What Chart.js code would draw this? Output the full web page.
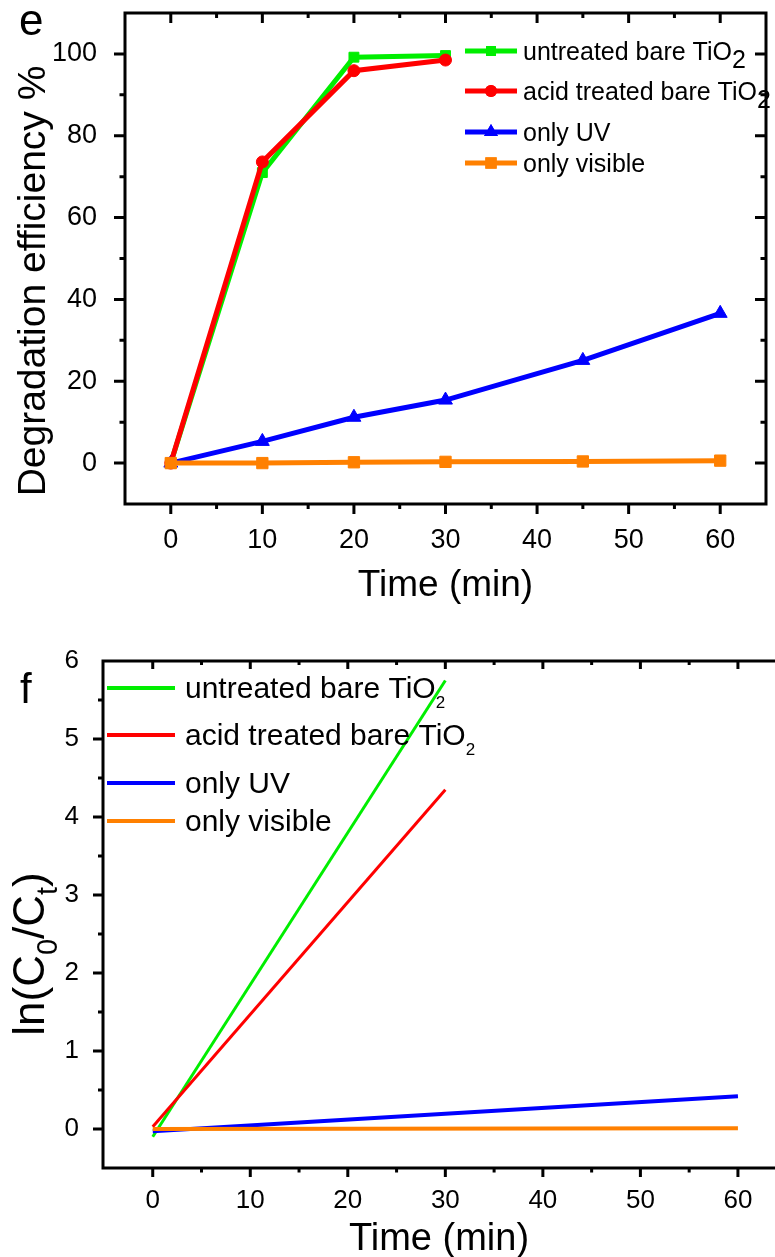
<!DOCTYPE html>
<html>
<head>
<meta charset="utf-8">
<script src="https://cdn.jsdelivr.net/npm/chart.js@4"></script>
<style>
  html, body { margin: 0; padding: 0; background: #fff; }
  #chartE { position: absolute; left: 0; top: 0; }
  #chartF { position: absolute; left: 0; top: 620px; }
</style>
</head>
<body>
<canvas id="chartE" width="775" height="620"></canvas>
<canvas id="chartF" width="775" height="637"></canvas>
<script>
// panel e: degradation efficiency (%)
const timeE = [0, 10, 20, 30, 45, 60];
const untreatedE = [0, 71.0, 99.2, 99.6];
const acidE = [0, 73.6, 95.9, 98.5];
const uvE = [0, 5.3, 11.2, 15.4, 25.1, 36.6];
const visibleE = [0, 0.0, 0.2, 0.3, 0.4, 0.6];

// panel f: fitted ln(C0/Ct) lines
const fitTimeTiO2 = [0, 30];
const fitTimeRef = [0, 60];
const untreatedF = [-0.1, 5.75];
const acidF = [0.03, 4.35];
const uvF = [-0.03, 0.42];
const visibleF = [0.0, 0.01];

const seriesNames = ['untreated bare TiO_2', 'acid treated bare TiO_2', 'only UV', 'only visible'];
const seriesColors = ['#00ee00', '#ff0000', '#0000ff', '#ff8000'];
const markerStyles = ['rect', 'circle', 'triangle', 'rect'];
const markerSizes = [7, 6, 8, 8];
const drawOrder = [4, 2, 3, 1];

const xTicks = [0, 10, 20, 30, 40, 50, 60];
const yTicksE = [0, 20, 40, 60, 80, 100];
const yTicksF = [0, 1, 2, 3, 4, 5, 6];

const FONT = "'Liberation Sans', Arial, Helvetica, sans-serif";

function pts(xs, ys) {
  return ys.map((v, i) => ({ x: xs[i], y: v }));
}

// text with "_c" meaning subscript c
function richParts(str) {
  return str.split(/(_.)/).filter(p => p.length).map(p =>
    p[0] === '_' ? { t: p.slice(1), sub: true } : { t: p, sub: false });
}
function richWidth(ctx, str, size, subSize) {
  let w = 0;
  for (const p of richParts(str)) {
    ctx.font = (p.sub ? subSize : size) + 'px ' + FONT;
    w += ctx.measureText(p.t).width;
  }
  return w;
}
function drawRich(ctx, str, x, y, size, subSize, subShift) {
  ctx.textAlign = 'left';
  ctx.textBaseline = 'alphabetic';
  for (const p of richParts(str)) {
    ctx.font = (p.sub ? subSize : size) + 'px ' + FONT;
    ctx.fillText(p.t, x, p.sub ? y + subShift : y);
    x += ctx.measureText(p.t).width;
  }
}

// axis frame with major/minor ticks, drawn from the chart scales
function framePlugin(o) {
  return {
    id: 'frame',
    afterDatasetsDraw(chart) {
      const { ctx, chartArea: a, scales: { x, y } } = chart;
      ctx.save();
      ctx.strokeStyle = '#000';
      ctx.lineWidth = 3;
      ctx.beginPath();
      ctx.moveTo(a.left - 1.5, a.top); ctx.lineTo(a.right + 1.5, a.top);
      ctx.moveTo(a.left, a.top); ctx.lineTo(a.left, a.bottom);
      ctx.moveTo(a.left - 1.5, a.bottom); ctx.lineTo(a.right + 1.5, a.bottom);
      if (o.right) { ctx.moveTo(a.right, a.top); ctx.lineTo(a.right, a.bottom); }
      ctx.stroke();

      const start = (s, step) => Math.ceil(s.min / step - 1e-9) * step;
      ctx.beginPath();
      for (let v = start(x, o.xMinor); v <= x.max + 1e-9; v += o.xMinor) {
        const px = x.getPixelForValue(v);
        if (px < a.left + 2 || px > a.right - 1) continue;
        const major = Math.abs(v / o.xMajor - Math.round(v / o.xMajor)) < 1e-6;
        const len = major ? o.xLen : o.xLen / 2;
        ctx.moveTo(px, a.bottom); ctx.lineTo(px, a.bottom + len);
        ctx.moveTo(px, a.top); ctx.lineTo(px, a.top + (major ? o.topLen : o.topLen / 2));
      }
      for (let v = start(y, o.yMinor); v <= y.max + 1e-9; v += o.yMinor) {
        const py = y.getPixelForValue(v);
        if (py > a.bottom - 2 || py < a.top + 2) continue;
        const major = Math.abs(v / o.yMajor - Math.round(v / o.yMajor)) < 1e-6;
        const len = major ? o.yLen : o.yLen / 2;
        ctx.moveTo(a.left - len, py); ctx.lineTo(a.left, py);
        if (o.right) {
          ctx.moveTo(a.right, py); ctx.lineTo(a.right - (major ? o.yLen : o.yLen / 2), py);
        }
      }
      ctx.stroke();
      ctx.restore();
    }
  };
}

// titles, panel letter and legend
function decorPlugin(o) {
  return {
    id: 'decor',
    afterDraw(chart) {
      const { ctx, chartArea: a } = chart;
      ctx.save();
      ctx.fillStyle = '#000';

      // panel letter
      ctx.font = o.letterSize + 'px ' + FONT;
      ctx.textAlign = 'left';
      ctx.textBaseline = 'alphabetic';
      ctx.fillText(o.letter, o.letterX, o.letterY);

      // x title
      ctx.font = o.xTitleSize + 'px ' + FONT;
      ctx.textAlign = 'center';
      ctx.fillText(o.xTitle, (a.left + a.right) / 2 + (o.xTitleDx || 0), o.xTitleY);

      // y title (rotated)
      const ys = o.yTitleSize, ysub = Math.round(ys * o.yTitleSub);
      const w = richWidth(ctx, o.yTitle, ys, ysub);
      ctx.save();
      ctx.translate(o.yTitleX, o.yTitleY);
      ctx.rotate(-Math.PI / 2);
      drawRich(ctx, o.yTitle, -w / 2, 0, ys, ysub, Math.round(ys * 0.3));
      ctx.restore();

      // legend
      chart.data.datasets.forEach((ds, i) => {
        const ly = o.legendY[i];
        ctx.strokeStyle = ds.borderColor;
        ctx.lineWidth = o.legendLineWidth;
        ctx.beginPath();
        ctx.moveTo(o.legendX0, ly); ctx.lineTo(o.legendX1, ly);
        ctx.stroke();
        if (o.legendMarkers) {
          ctx.fillStyle = ds.borderColor;
          Chart.helpers.drawPoint(ctx, {
            pointStyle: ds.pointStyle, radius: ds.pointRadius, borderWidth: 0
          }, (o.legendX0 + o.legendX1) / 2, ly);
          ctx.fill();
        }
        ctx.fillStyle = '#000';
        drawRich(ctx, ds.label, o.legendTextX, ly + o.legendBaseline,
          o.legendSize, o.legendSubSize, o.legendSubShift);
      });
      ctx.restore();
    }
  };
}

function tickFont(size) {
  return { family: FONT, size: size };
}
function fixX(h) {
  return s => { s.height = h; s.paddingLeft = 0; s.paddingRight = 0; };
}
function fixY(w) {
  return s => { s.width = w; s.paddingTop = 0; s.paddingBottom = 0; };
}

// ---- chart e ----
const dataE = [untreatedE, acidE, uvE, visibleE];
new Chart(document.getElementById('chartE'), {
  type: 'line',
  data: {
    datasets: dataE.map((vals, i) => ({
      label: seriesNames[i],
      data: pts(timeE, vals),
      borderColor: seriesColors[i],
      backgroundColor: seriesColors[i],
      borderWidth: 5,
      pointStyle: markerStyles[i],
      pointRadius: markerSizes[i],
      pointBorderWidth: 1,
      pointBorderColor: seriesColors[i],
      pointBackgroundColor: seriesColors[i],
      order: drawOrder[i],
      tension: 0
    }))
  },
  options: {
    responsive: false,
    animation: false,
    layout: { padding: { top: 13, right: 2, left: 0, bottom: 0 } },
    plugins: { legend: { display: false }, tooltip: { enabled: false } },
    scales: {
      x: {
        type: 'linear', min: -5, max: 65,
        grid: { display: false }, border: { display: false },
        afterBuildTicks: s => { s.ticks = xTicks.map(v => ({ value: v })); },
        afterFit: fixX(116),
        ticks: { font: tickFont(27), color: '#000', padding: 12, maxRotation: 0, autoSkip: false }
      },
      y: {
        type: 'linear', min: -10, max: 110,
        grid: { display: false }, border: { display: false },
        afterBuildTicks: s => { s.ticks = yTicksE.map(v => ({ value: v })); },
        afterFit: fixY(125),
        ticks: { font: tickFont(27), color: '#000', padding: 20, autoSkip: false }
      }
    }
  },
  plugins: [
    framePlugin({ xMajor: 10, xMinor: 5, yMajor: 20, yMinor: 10, xLen: 10, topLen: 10, yLen: 11, right: true }),
    decorPlugin({
      letter: 'e', letterSize: 44, letterX: 19, letterY: 35,
      xTitle: 'Time (min)', xTitleSize: 37, xTitleY: 596,
      yTitle: 'Degradation efficiency %', yTitleSize: 39, yTitleSub: 0.6, yTitleX: 45, yTitleY: 281,
      legendY: [51, 91, 132, 163], legendX0: 465, legendX1: 517, legendTextX: 523,
      legendLineWidth: 5, legendMarkers: true, legendBaseline: 9,
      legendSize: 25, legendSubSize: 25, legendSubShift: 8
    })
  ]
});

// ---- chart f ----
const fitX = [fitTimeTiO2, fitTimeTiO2, fitTimeRef, fitTimeRef];
const dataF = [untreatedF, acidF, uvF, visibleF];
const lineWidthsF = [3, 3, 4, 4];
new Chart(document.getElementById('chartF'), {
  type: 'line',
  data: {
    datasets: dataF.map((vals, i) => ({
      label: seriesNames[i],
      data: pts(fitX[i], vals),
      borderColor: seriesColors[i],
      backgroundColor: seriesColors[i],
      borderWidth: lineWidthsF[i],
      pointRadius: 0,
      order: drawOrder[i],
      tension: 0
    }))
  },
  options: {
    responsive: false,
    animation: false,
    layout: { padding: { top: 41, right: 0, left: 0, bottom: 0 } },
    plugins: { legend: { display: false }, tooltip: { enabled: false } },
    scales: {
      x: {
        type: 'linear', min: -5.1, max: 63.8,
        grid: { display: false }, border: { display: false },
        afterBuildTicks: s => { s.ticks = xTicks.map(v => ({ value: v })); },
        afterFit: fixX(89),
        ticks: { font: tickFont(26), color: '#000', padding: 9, maxRotation: 0, autoSkip: false }
      },
      y: {
        type: 'linear', min: -0.5, max: 6,
        grid: { display: false }, border: { display: false },
        afterBuildTicks: s => { s.ticks = yTicksF.map(v => ({ value: v })); },
        afterFit: fixY(103),
        ticks: { font: tickFont(26), color: '#000', padding: 16, autoSkip: false }
      }
    }
  },
  plugins: [
    framePlugin({ xMajor: 10, xMinor: 5, yMajor: 1, yMinor: 0.5, xLen: 9, topLen: 8, yLen: 10, right: false }),
    decorPlugin({
      letter: 'f', letterSize: 42, letterX: 20, letterY: 83,
      xTitle: 'Time (min)', xTitleSize: 38, xTitleY: 630,
      yTitle: 'ln(C_0/C_t)', yTitleSize: 44, yTitleSub: 0.65, yTitleX: 44, yTitleY: 334,
      legendY: [68, 115, 163, 201], legendX0: 107, legendX1: 175, legendTextX: 185,
      legendLineWidth: 4, legendMarkers: false, legendBaseline: 10,
      legendSize: 30, legendSubSize: 17, legendSubShift: 10
    })
  ]
});
</script>
</body>
</html>
